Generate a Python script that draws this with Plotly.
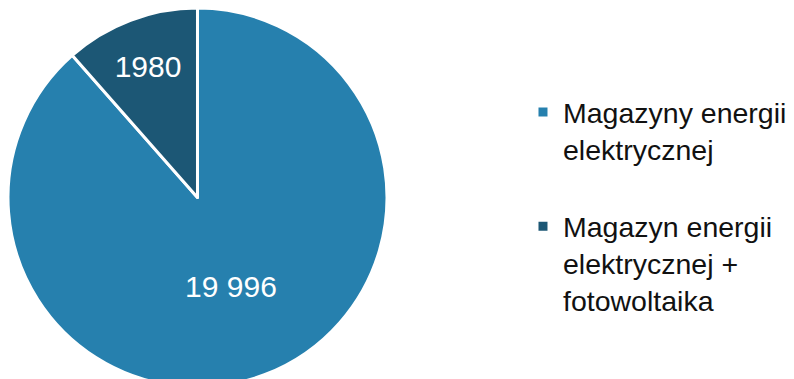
import plotly.graph_objects as go

# Legend / category names
categories = ["Magazyny energii<br>elektrycznej<br> ", "Magazyn energii<br>elektrycznej +<br>fotowoltaika"]
# Data labels as printed on the slices
slice_labels = ["19 996", "1980"]
# Slice sizes as drawn in the picture (share of the circle, measured from the slice angles)
slice_shares = [88.5, 11.5]
colors = ["#2680AE", "#1C5775"]

fig = go.Figure(
    go.Pie(
        labels=categories,
        values=slice_shares,
        text=slice_labels,
        textinfo="text",
        texttemplate="%{text}",
        hoverinfo="label+text",
        sort=False,
        direction="clockwise",
        rotation=0,
        marker=dict(colors=colors, line=dict(color="white", width=3)),
        textfont=dict(family="Liberation Sans, Arial, sans-serif", size=30, color="white"),
        insidetextorientation="horizontal",
        textposition="inside",
        domain=dict(x=[0, 0.4773], y=[0, 1]),
    )
)

fig.update_layout(
    width=794,
    height=379,
    margin=dict(l=0, r=0, t=0, b=0),
    paper_bgcolor="white",
    plot_bgcolor="white",
    showlegend=True,
    legend=dict(
        x=0.6486,
        y=0.7916,
        xanchor="left",
        yanchor="top",
        valign="top",
        font=dict(family="Liberation Sans, Arial, sans-serif", size=28.5, color="#111111"),
        itemwidth=30,
        tracegroupgap=0,
    ),
    uniformtext=dict(minsize=30, mode="show"),
)

fig.write_html("out.html")
